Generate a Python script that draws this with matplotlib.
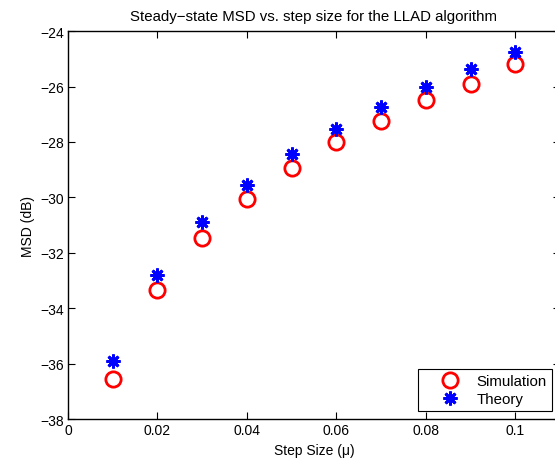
import matplotlib
matplotlib.use('Agg')
import matplotlib.pyplot as plt

# Data
step_size = [0.01, 0.02, 0.03, 0.04, 0.05, 0.06, 0.07, 0.08, 0.09, 0.10]
msd_sim = [-36.55, -33.35, -31.45, -30.05, -28.95, -28.0, -27.25, -26.5, -25.9, -25.2]
msd_theory = [-35.9, -32.8, -30.9, -29.55, -28.45, -27.55, -26.75, -26.0, -25.35, -24.75]
x_ticks = [0, 0.02, 0.04, 0.06, 0.08, 0.1]
x_labels = ['0', '0.02', '0.04', '0.06', '0.08', '0.1']
y_ticks = [-38, -36, -34, -32, -30, -28, -26, -24]

plt.rcParams['font.family'] = ['Liberation Sans', 'DejaVu Sans']
plt.rcParams['axes.unicode_minus'] = True

fig = plt.figure(figsize=(5.55, 4.64), dpi=100)
ax = fig.add_axes([0.1225, 0.0948, 0.8865, 0.836])

ax.plot(step_size, msd_sim, linestyle='none', marker='o', markersize=11,
        markerfacecolor='none', markeredgecolor='red', markeredgewidth=2,
        label='Simulation')
ax.plot(step_size, msd_theory, linestyle='none', marker=(8, 2, 0), markersize=10,
        markeredgecolor='blue', markerfacecolor='blue', markeredgewidth=2,
        label='Theory')

ax.set_xlim(0, 0.11)
ax.set_ylim(-38, -24)
ax.set_xticks(x_ticks)
ax.set_xticklabels(x_labels)
ax.set_yticks(y_ticks)
ax.tick_params(direction='in', top=True, right=True, length=5, width=0.8,
               labelsize=10, pad=3)
for s in ax.spines.values():
    s.set_linewidth(1.0)

ax.set_xlabel('Step Size (\u03bc)', fontsize=10, labelpad=4)
ax.set_ylabel('MSD (dB)', fontsize=10, labelpad=4)
ax.set_title('Steady\u2212state MSD vs. step size for the LLAD algorithm', fontsize=10.8, pad=8)

leg = ax.legend(loc='lower right', fontsize=10.8,
                fancybox=False, edgecolor='black', framealpha=1,
                borderpad=0.33, labelspacing=0.25, handletextpad=-0.1,
                borderaxespad=0.55, handlelength=3.7)
leg.get_frame().set_linewidth(0.8)

plt.savefig('out.png', dpi=100)
